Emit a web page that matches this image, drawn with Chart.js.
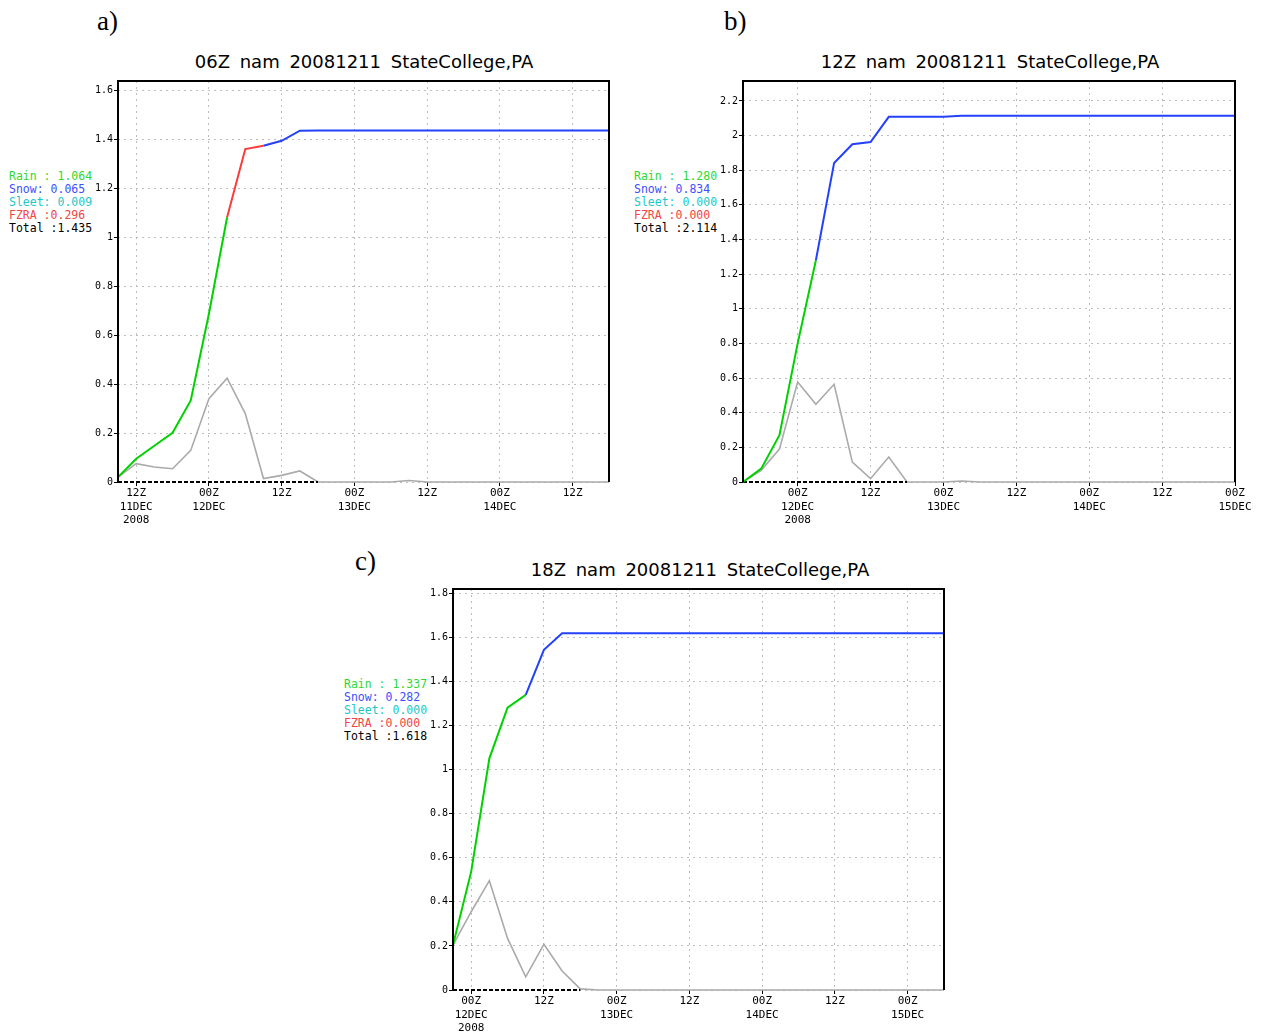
<!DOCTYPE html>
<html>
<head>
<meta charset="utf-8">
<script src="https://cdn.jsdelivr.net/npm/chart.js@4"></script>
<style>
body { margin:0; background:#fff; width:1266px; height:1034px; position:relative; overflow:hidden; }
canvas, .lab, .ttl, .leg { position:absolute; }
.lab { font-family:"Liberation Serif", serif; font-size:27px; }
.ttl { font-family:"DejaVu Sans", sans-serif; font-size:18px; transform:translateX(-50%); white-space:nowrap; word-spacing:4px; }
.leg { font-family:"DejaVu Sans Mono", monospace; font-size:11.5px; line-height:13px; white-space:pre; }
</style>
</head>
<body>

<div class="lab" style="left:97px;top:6px">a)</div>
<div class="lab" style="left:724px;top:6px">b)</div>
<div class="lab" style="left:355px;top:546px">c)</div>

<div class="ttl" style="left:364px;top:51px">06Z nam 20081211 StateCollege,PA</div>
<div class="ttl" style="left:990px;top:51px">12Z nam 20081211 StateCollege,PA</div>
<div class="ttl" style="left:700px;top:559px">18Z nam 20081211 StateCollege,PA</div>

<div class="leg" id="legA" style="left:9px;top:170px"></div>
<div class="leg" id="legB" style="left:634px;top:170px"></div>
<div class="leg" id="legC" style="left:344px;top:678px"></div>

<canvas id="chartA" width="540" height="500" style="left:80px;top:40px"></canvas>
<canvas id="chartB" width="560" height="500" style="left:700px;top:40px"></canvas>
<canvas id="chartC" width="550" height="486" style="left:410px;top:548px"></canvas>

<script>
// forecast hours (3-hourly output of the 84h nam run)
const fcstHours = [3,6,9,12,15,18,21,24,27,30,33,36,39,42,45,48,51,54,57,60,63,66,69,72,75,78,81,84];

// ---- 06Z run ----
const accumA = [0.02,0.095,0.148,0.201,0.333,0.687,1.081,1.359,1.373,1.393,1.434,1.435,1.435,1.435,1.435,1.435,1.435,1.435,1.435,1.435,1.435,1.435,1.435,1.435,1.435,1.435,1.435,1.435];
const typeA  = ['F','R','R','R','R','R','R','F','F','S','S','S','S','S','S','S','S','S','S','S','S','S','S','S','S','S','S','S'];
const amtA   = [0.02,0.075,0.061,0.054,0.129,0.34,0.424,0.279,0.014,0.027,0.045,0,0,0,0,0,0.006,0,0,0,0,0,0,0,0,0,0,0];
const zeroLineA = 36;
const totalsA = {rain:'1.064', snow:'0.065', sleet:'0.009', fzra:'0.296', total:'1.435'};
const xTickHoursA = [6,18,30,42,54,66,78];
const xTickLabelsA = [['12Z','11DEC','2008'],['00Z','12DEC'],'12Z',['00Z','13DEC'],'12Z',['00Z','14DEC'],'12Z'];
const yTicksA = [0,0.2,0.4,0.6,0.8,1,1.2,1.4,1.6];
const yMaxA = 1.637;

// ---- 12Z run ----
const accumB = [0,0.077,0.27,0.80,1.28,1.842,1.95,1.963,2.108,2.108,2.108,2.108,2.114,2.114,2.114,2.114,2.114,2.114,2.114,2.114,2.114,2.114,2.114,2.114,2.114,2.114,2.114,2.114];
const typeB  = ['R','R','R','R','R','S','S','S','S','S','S','S','S','S','S','S','S','S','S','S','S','S','S','S','S','S','S','S'];
const amtB   = [0,0.067,0.19,0.577,0.449,0.564,0.115,0.019,0.144,0,0,0,0.006,0,0,0,0,0,0,0,0,0,0,0,0,0,0,0];
const zeroLineB = 30;
const totalsB = {rain:'1.280', snow:'0.834', sleet:'0.000', fzra:'0.000', total:'2.114'};
const xTickHoursB = [12,24,36,48,60,72,84];
const xTickLabelsB = [['00Z','12DEC','2008'],'12Z',['00Z','13DEC'],'12Z',['00Z','14DEC'],'12Z',['00Z','15DEC']];
const yTicksB = [0,0.2,0.4,0.6,0.8,1,1.2,1.4,1.6,1.8,2,2.2];
const yMaxB = 2.315;

// ---- 18Z run ----
const accumC = [0.204,0.537,1.051,1.281,1.339,1.543,1.618,1.618,1.618,1.618,1.618,1.618,1.618,1.618,1.618,1.618,1.618,1.618,1.618,1.618,1.618,1.618,1.618,1.618,1.618,1.618,1.618,1.618];
const typeC  = ['R','R','R','R','R','S','S','S','S','S','S','S','S','S','S','S','S','S','S','S','S','S','S','S','S','S','S','S'];
const amtC   = [0.204,0.355,0.496,0.234,0.06,0.207,0.086,0.005,0,0,0,0,0,0,0,0,0,0,0,0,0,0,0,0,0,0,0,0];
const zeroLineC = 24;
const totalsC = {rain:'1.337', snow:'0.282', sleet:'0.000', fzra:'0.000', total:'1.618'};
const xTickHoursC = [6,18,30,42,54,66,78];
const xTickLabelsC = [['00Z','12DEC','2008'],'12Z',['00Z','13DEC'],'12Z',['00Z','14DEC'],'12Z',['00Z','15DEC']];
const yTicksC = [0,0.2,0.4,0.6,0.8,1,1.2,1.4,1.6,1.8];
const yMaxC = 1.819;

const typeColor = { R:'rgb(0,210,0)', S:'rgb(35,65,250)', F:'rgb(250,60,60)', I:'rgb(0,200,200)' };

function fillLegend(id, t) {
  document.getElementById(id).innerHTML =
    '<span style="color:#2fd82f">Rain : ' + t.rain + '</span>\n' +
    '<span style="color:#3c50ff">Snow: ' + t.snow + '</span>\n' +
    '<span style="color:#1cc8c8">Sleet: ' + t.sleet + '</span>\n' +
    '<span style="color:#f04646">FZRA :' + t.fzra + '</span>\n' +
    '<span style="color:#000">Total :' + t.total + '</span>';
}

// black frame on top / left / right
const framePlugin = {
  id: 'frame',
  afterDatasetsDraw(chart) {
    const a = chart.chartArea, c = chart.ctx;
    c.save();
    c.strokeStyle = '#000';
    c.lineWidth = 2;
    c.beginPath();
    c.moveTo(a.left, a.bottom);
    c.lineTo(a.left, a.top);
    c.lineTo(a.right, a.top);
    c.lineTo(a.right, a.bottom);
    c.stroke();
    c.restore();
  }
};

function makeChart(id, accum, types, amt, zeroEnd, xTicks, xLabels, yTicks, yMax, yWidth, xHeight, padRight) {
  const accumPts = [{x: fcstHours[0], y: 0}].concat(fcstHours.map((h, i) => ({x: h, y: accum[i]})));
  const ptTypes = [types[0]].concat(types);
  const amtPts = fcstHours.map((h, i) => ({x: h, y: amt[i]}));
  const zeroPts = fcstHours.filter(h => h <= zeroEnd).map(h => ({x: h, y: 0}));

  return new Chart(document.getElementById(id), {
    type: 'line',
    data: {
      datasets: [
        {
          label: 'accum',
          data: accumPts,
          borderWidth: 2,
          pointRadius: 0,
          clip: false,
          order: 0,
          segment: { borderColor: ctx => typeColor[ptTypes[ctx.p1DataIndex]] }
        },
        {
          label: 'zero',
          data: zeroPts,
          borderColor: '#000',
          borderWidth: 2,
          borderDash: [4, 2],
          pointRadius: 0,
          clip: false,
          order: 1
        },
        {
          label: '3h',
          data: amtPts,
          borderColor: '#aaaaaa',
          borderWidth: 1.6,
          pointRadius: 0,
          clip: false,
          order: 2
        }
      ]
    },
    options: {
      responsive: false,
      animation: false,
      parsing: false,
      layout: { padding: { top: 41, right: padRight, left: 0, bottom: 0 } },
      plugins: { legend: { display: false }, tooltip: { enabled: false } },
      scales: {
        x: {
          type: 'linear',
          min: 3,
          max: 84,
          afterBuildTicks: s => { s.ticks = xTicks.map(v => ({value: v})); },
          afterFit: s => { s.height = xHeight; },
          ticks: {
            autoSkip: false,
            maxRotation: 0,
            padding: 1,
            color: '#000',
            font: { family: 'DejaVu Sans Mono', size: 11, lineHeight: 1.2 },
            callback: (v, i) => xLabels[i]
          },
          grid: { color: '#bdbdbd', tickColor: '#000', tickLength: 4 },
          border: { display: false, dash: [2, 4] }
        },
        y: {
          min: 0,
          max: yMax,
          afterBuildTicks: s => { s.ticks = yTicks.map(v => ({value: v})); },
          afterFit: s => { s.width = yWidth; },
          ticks: {
            padding: 1,
            color: '#000',
            font: { family: 'DejaVu Sans Mono', size: 10 },
            callback: v => String(+v.toFixed(1))
          },
          grid: { color: '#bdbdbd', tickColor: '#000', tickLength: 4 },
          border: { display: false, dash: [2, 4] }
        }
      }
    },
    plugins: [framePlugin]
  });
}

fillLegend('legA', totalsA);
fillLegend('legB', totalsB);
fillLegend('legC', totalsC);

makeChart('chartA', accumA, typeA, amtA, zeroLineA, xTickHoursA, xTickLabelsA, yTicksA, yMaxA, 38, 58, 11);
makeChart('chartB', accumB, typeB, amtB, zeroLineB, xTickHoursB, xTickLabelsB, yTicksB, yMaxB, 43, 58, 25);
makeChart('chartC', accumC, typeC, amtC, zeroLineC, xTickHoursC, xTickLabelsC, yTicksC, yMaxC, 43, 44, 16);
</script>
</body>
</html>
